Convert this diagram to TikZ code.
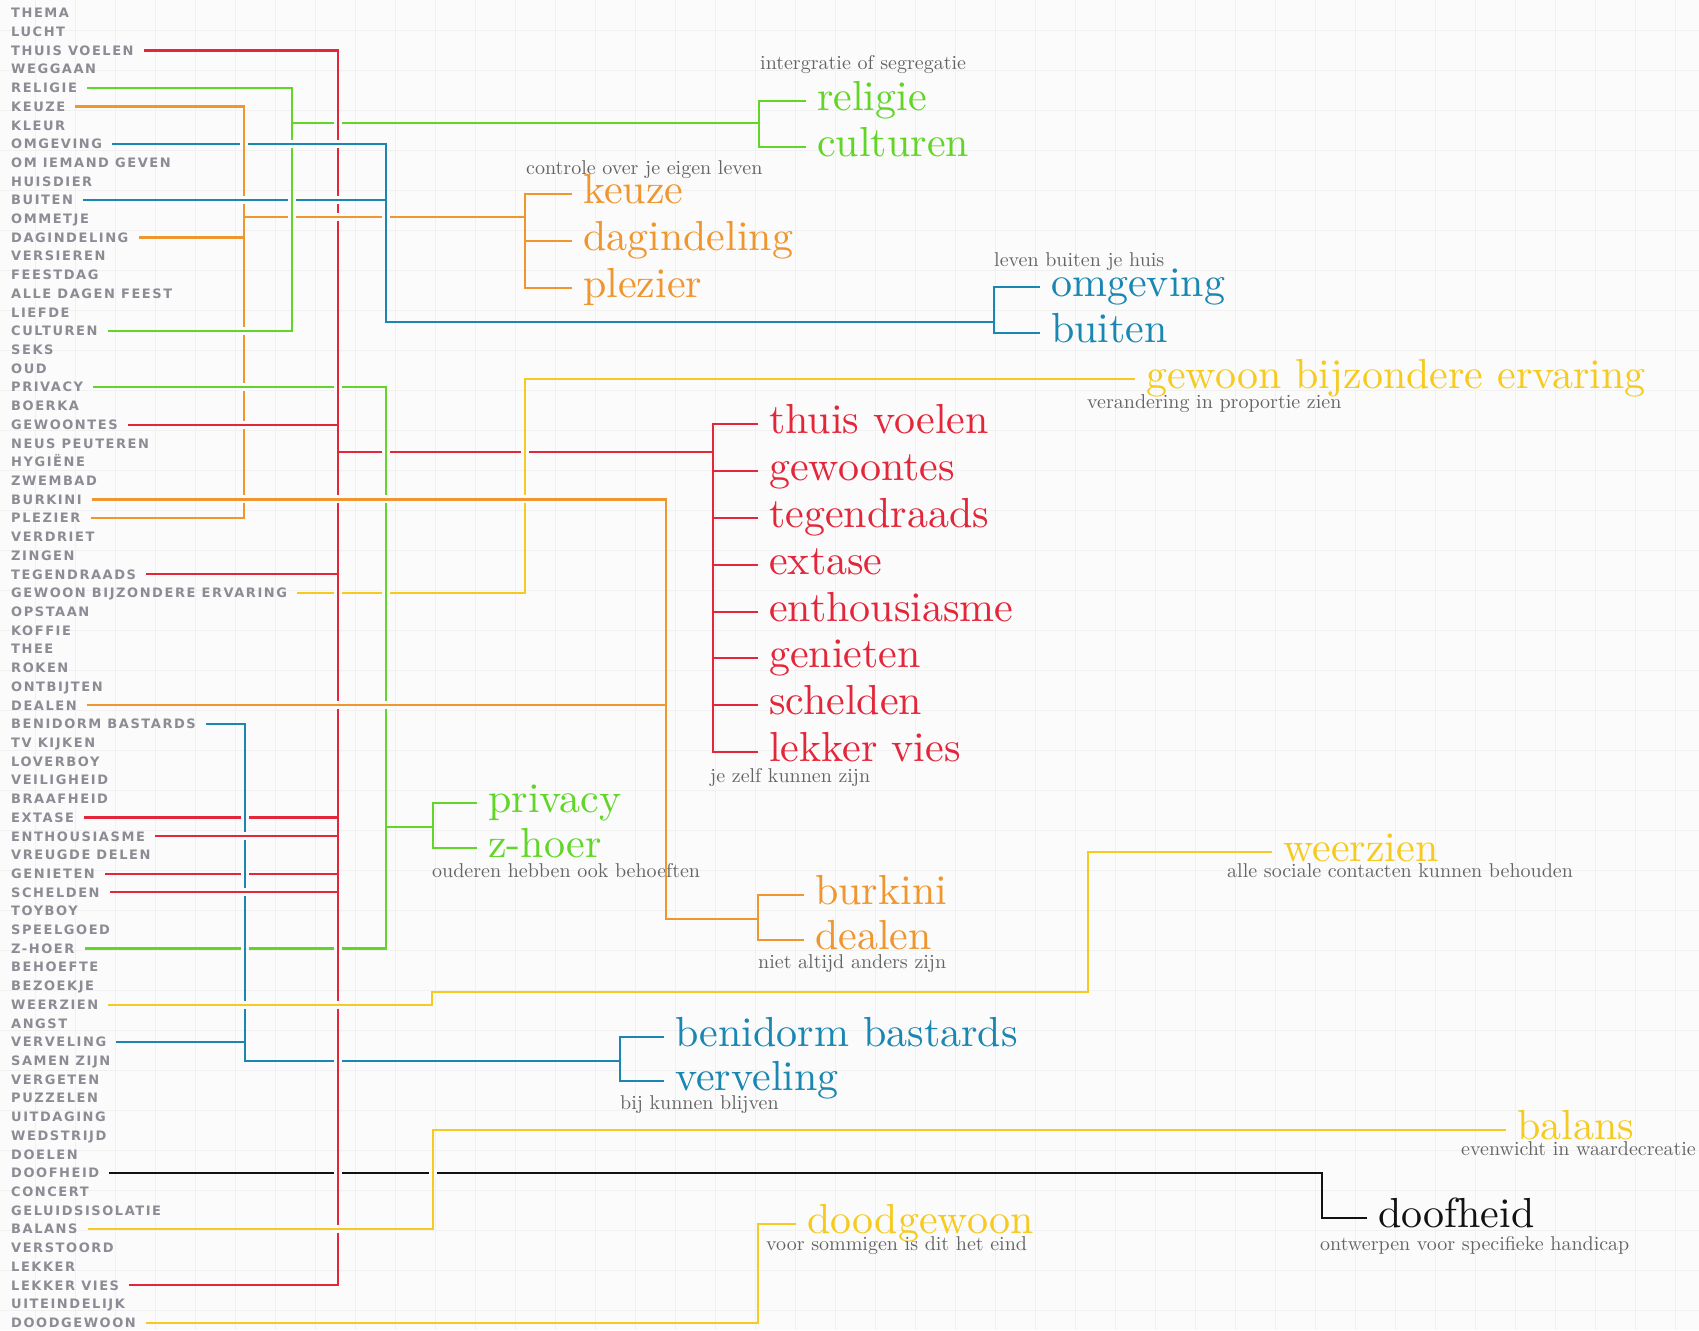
\documentclass[tikz,border=0pt]{standalone}
\usepackage{fontspec}
\newfontfamily\listfont[LetterSpace=12]{DejaVu Sans}
\newfontfamily\bigfont[Extension=.otf]{lmroman10-regular}
\definecolor{cred}{RGB}{228,38,58}
\definecolor{cgrn}{RGB}{98,214,40}
\definecolor{corg}{RGB}{240,150,46}
\definecolor{cblu}{RGB}{26,134,178}
\definecolor{cyel}{RGB}{246,202,30}
\definecolor{cblk}{RGB}{18,18,18}
\definecolor{lstgray}{RGB}{140,140,148}
\definecolor{anngray}{RGB}{100,100,100}
\definecolor{bgc}{RGB}{251,251,251}
\definecolor{gridc}{RGB}{241,241,241}
\newcommand\xv[3]{\fill[bgc] (#1-4,#2-5) rectangle (#1+4,#2+5); \draw[ln,#3] (#1,#2-5.5) -- (#1,#2+5.5);}
\newcommand\xh[3]{\fill[bgc] (#1-5,#2-4) rectangle (#1+5,#2+4); \draw[ln,#3] (#1-5.5,#2) -- (#1+5.5,#2);}
\begin{document}
\begin{tikzpicture}[x=1pt,y=-1pt,
  ln/.style={line width=2.2pt},
  lst/.style={anchor=west,inner sep=0pt,text height=9.5pt,text depth=0pt,text=lstgray,font=\listfont\bfseries\fontsize{13}{13}\selectfont},
  lab/.style={anchor=west,inner sep=0pt,text height=19pt,text depth=0pt,font=\bigfont\fontsize{42}{42}\selectfont},
  ann/.style={anchor=west,inner sep=0pt,text height=9pt,text depth=0pt,text=anngray,font=\bigfont\fontsize{20}{20}\selectfont}]
\useasboundingbox (0,0) rectangle (1699,1330);
\fill[bgc] (0,0) rectangle (1699,1330);
\foreach \gx in {35,75,...,1699} \draw[gridc,line width=0.8pt] (\gx,0) -- (\gx,1330);
\foreach \gy in {30,70,...,1330} \draw[gridc,line width=0.8pt] (0,\gy) -- (1699,\gy);

% ---------- left list ----------
\foreach \t [count=\i] in {THEMA,LUCHT,THUIS VOELEN,WEGGAAN,RELIGIE,KEUZE,KLEUR,OMGEVING,OM IEMAND GEVEN,HUISDIER,BUITEN,OMMETJE,DAGINDELING,VERSIEREN,FEESTDAG,ALLE DAGEN FEEST,LIEFDE,CULTUREN,SEKS,OUD,PRIVACY,BOERKA,GEWOONTES,NEUS PEUTEREN,HYGIËNE,ZWEMBAD,BURKINI,PLEZIER,VERDRIET,ZINGEN,TEGENDRAADS,GEWOON BIJZONDERE ERVARING,OPSTAAN,KOFFIE,THEE,ROKEN,ONTBIJTEN,DEALEN,BENIDORM BASTARDS,TV KIJKEN,LOVERBOY,VEILIGHEID,BRAAFHEID,EXTASE,ENTHOUSIASME,VREUGDE DELEN,GENIETEN,SCHELDEN,TOYBOY,SPEELGOED,Z-HOER,BEHOEFTE,BEZOEKJE,WEERZIEN,ANGST,VERVELING,SAMEN ZIJN,VERGETEN,PUZZELEN,UITDAGING,WEDSTRIJD,DOELEN,DOOFHEID,CONCERT,GELUIDSISOLATIE,BALANS,VERSTOORD,LEKKER,LEKKER VIES,UITEINDELIJK,DOODGEWOON}
  \node[lst] (l\i) at (11,{13+18.71*(\i-1)}) {\t};

% ---------- labels ----------
\node[lab,text=cgrn] (gr1) at (817,101) {religie};
\node[lab,text=cgrn] (gr2) at (817,147) {culturen};
\node[ann] (a1) at (760,65) {intergratie of segregatie};

\node[lab,text=corg] (ok1) at (583,194) {keuze};
\node[lab,text=corg] (ok2) at (583,241) {dagindeling};
\node[lab,text=corg] (ok3) at (583,288) {plezier};
\node[ann] (a2) at (526,170) {controle over je eigen leven};

\node[lab,text=cblu] (bo1) at (1051,287) {omgeving};
\node[lab,text=cblu] (bo2) at (1051,333) {buiten};
\node[ann] (a3) at (994,262) {leven buiten je huis};

\node[lab,text=cyel] (gbe) at (1146,379) {gewoon bijzondere ervaring};
\node[ann] (a4) at (1087,404) {verandering in proportie zien};

\node[lab,text=cred] (r1) at (769,424) {thuis voelen};
\node[lab,text=cred] (r2) at (769,471) {gewoontes};
\node[lab,text=cred] (r3) at (769,518) {tegendraads};
\node[lab,text=cred] (r4) at (769,565) {extase};
\node[lab,text=cred] (r5) at (769,612) {enthousiasme};
\node[lab,text=cred] (r6) at (769,658) {genieten};
\node[lab,text=cred] (r7) at (769,705) {schelden};
\node[lab,text=cred] (r8) at (769,752) {lekker vies};
\node[ann] (a5) at (710,778) {je zelf kunnen zijn};

\node[lab,text=cgrn] (gp1) at (488,803) {privacy};
\node[lab,text=cgrn] (gp2) at (488,848) {z-hoer};
\node[ann] (a6) at (432,873) {ouderen hebben ook behoeften};

\node[lab,text=corg] (ob1) at (815,895) {burkini};
\node[lab,text=corg] (ob2) at (815,940) {dealen};
\node[ann] (a7) at (758,964) {niet altijd anders zijn};

\node[lab,text=cyel] (wz) at (1283,852) {weerzien};
\node[ann] (a8) at (1227,873) {alle sociale contacten kunnen behouden};

\node[lab,text=cblu] (bb1) at (675,1037) {benidorm bastards};
\node[lab,text=cblu] (bb2) at (675,1081) {verveling};
\node[ann] (a9) at (620,1105) {bij kunnen blijven};

\node[lab,text=cyel] (bal) at (1517,1130) {balans};
\node[ann] (a10) at (1461,1151) {evenwicht in waardecreatie};

\node[lab,text=cblk] (doof) at (1378,1218) {doofheid};
\node[ann] (a11) at (1320,1246) {ontwerpen voor specifieke handicap};

\node[lab,text=cyel] (dg) at (807,1224) {doodgewoon};
\node[ann] (a12) at (766,1246) {voor sommigen is dit het eind};

% ---------- coordinates ----------
\coordinate (rx) at (338,0);   \coordinate (rtr) at (338,452);  \coordinate (rbx) at (713,0);
\coordinate (g1x) at (292,0);  \coordinate (g1tr) at (292,123); \coordinate (g1bx) at (759,0);
\coordinate (o1x) at (244,0);  \coordinate (o1tr) at (244,217); \coordinate (o1bx) at (525,0);
\coordinate (b1x) at (386,0);  \coordinate (b1tr) at (386,322); \coordinate (b1bx) at (994,0);
\coordinate (g2x) at (386,0);  \coordinate (g2tr) at (386,827); \coordinate (g2bx) at (433,0);
\coordinate (o2x) at (666,0);  \coordinate (o2tr) at (666,919); \coordinate (o2bx) at (758,0);
\coordinate (b2x) at (245,0);  \coordinate (b2tr) at (245,1061);\coordinate (b2bx) at (620,0);
\coordinate (y1x) at (525,0);
\coordinate (w1x) at (432,0);  \coordinate (w1c) at (432,992);  \coordinate (w2x) at (1088,0);
\coordinate (y3x) at (433,0);
\coordinate (kx) at (1322,0);
\coordinate (y4x) at (758,0);

% ---------- connectors ----------
% yellow
\draw[ln,cyel] ([xshift=10pt]l32.east) -- (l32.east -| y1x) -- (gbe.west -| y1x) -- ([xshift=-11pt]gbe.west);
\draw[ln,cyel] ([xshift=10pt]l54.east) -- (l54.east -| w1x) -- (w1c) -- (w1c -| w2x) -- (wz.west -| w2x) -- ([xshift=-11pt]wz.west);
\draw[ln,cyel] ([xshift=10pt]l66.east) -- (l66.east -| y3x) -- (bal.west -| y3x) -- ([xshift=-11pt]bal.west);
\draw[ln,cyel] ([xshift=10pt]l71.east) -- (l71.east -| y4x) -- (dg.west -| y4x) -- ([xshift=-11pt]dg.west);
% black
\draw[ln,cblk] ([xshift=10pt]l63.east) -- (l63.east -| kx) -- (doof.west -| kx) -- ([xshift=-11pt]doof.west);
% blue benidorm
\draw[ln,cblu] ([xshift=10pt]l39.east) -- (l39.east -| b2x) -- (b2tr) -- (b2tr -| b2bx);
\draw[ln,cblu] ([xshift=10pt]l56.east) -- (l56.east -| b2x);
\draw[ln,cblu] ([xshift=-11pt]bb1.west) -- (bb1.west -| b2bx) -- (bb2.west -| b2bx) -- ([xshift=-11pt]bb2.west);
% orange burkini
\draw[ln,corg] ([xshift=10pt]l27.east) -- (l27.east -| o2x) -- (o2tr) -- (o2tr -| o2bx);
\draw[ln,corg] ([xshift=10pt]l38.east) -- (l38.east -| o2x);
\draw[ln,corg] ([xshift=-11pt]ob1.west) -- (ob1.west -| o2bx) -- (ob2.west -| o2bx) -- ([xshift=-11pt]ob2.west);
% green privacy
\draw[ln,cgrn] ([xshift=10pt]l21.east) -- (l21.east -| g2x) -- (l51.east -| g2x) -- ([xshift=10pt]l51.east);
\draw[ln,cgrn] (g2tr) -- (g2tr -| g2bx);
\draw[ln,cgrn] ([xshift=-11pt]gp1.west) -- (gp1.west -| g2bx) -- (gp2.west -| g2bx) -- ([xshift=-11pt]gp2.west);
% blue omgeving
\draw[ln,cblu] ([xshift=10pt]l8.east) -- (l8.east -| b1x) -- (b1tr) -- (b1tr -| b1bx);
\draw[ln,cblu] ([xshift=10pt]l11.east) -- (l11.east -| b1x);
\draw[ln,cblu] ([xshift=-11pt]bo1.west) -- (bo1.west -| b1bx) -- (bo2.west -| b1bx) -- ([xshift=-11pt]bo2.west);
% orange keuze
\draw[ln,corg] ([xshift=10pt]l6.east) -- (l6.east -| o1x) -- (l28.east -| o1x) -- ([xshift=10pt]l28.east);
\draw[ln,corg] ([xshift=10pt]l13.east) -- (l13.east -| o1x);
\draw[ln,corg] (o1tr) -- (o1tr -| o1bx);
\draw[ln,corg] ([xshift=-11pt]ok1.west) -- (ok1.west -| o1bx) -- (ok3.west -| o1bx) -- ([xshift=-11pt]ok3.west);
\draw[ln,corg] (ok2.west -| o1bx) -- ([xshift=-11pt]ok2.west);
% green religie
\draw[ln,cgrn] ([xshift=10pt]l5.east) -- (l5.east -| g1x) -- (l18.east -| g1x) -- ([xshift=10pt]l18.east);
\draw[ln,cgrn] (g1tr) -- (g1tr -| g1bx);
\draw[ln,cgrn] ([xshift=-11pt]gr1.west) -- (gr1.west -| g1bx) -- (gr2.west -| g1bx) -- ([xshift=-11pt]gr2.west);
% red
\draw[ln,cred] ([xshift=10pt]l3.east) -- (l3.east -| rx) -- (l69.east -| rx) -- ([xshift=10pt]l69.east);
\foreach \n in {23,31,44,45,47,48} \draw[ln,cred] ([xshift=10pt]l\n.east) -- (l\n.east -| rx);
\draw[ln,cred] (rtr) -- (rtr -| rbx);
\draw[ln,cred] ([xshift=-11pt]r1.west) -- (r1.west -| rbx) -- (r8.west -| rbx) -- ([xshift=-11pt]r8.west);
\foreach \n in {2,...,7} \draw[ln,cred] (r\n.west -| rbx) -- ([xshift=-11pt]r\n.west);

% ---------- crossings ----------
\xv{338}{123}{cred}
\xv{244}{143.97}{corg}
\xh{292}{143.97}{cblu}
\xh{338}{143.97}{cblu}
\xh{244}{200.1}{cblu}
\xv{292}{200.1}{cgrn}
\xh{338}{200.1}{cblu}
\xv{292}{217}{cgrn}
\xh{338}{217}{corg}
\xv{386}{217}{cblu}
\xh{244}{331.07}{cgrn}
\xh{244}{387.2}{cgrn}
\xv{338}{387.2}{cred}
\xh{244}{424.62}{cred}
\xv{386}{452}{cgrn}
\xv{525}{452}{cyel}
\xh{244}{499.46}{corg}
\xh{338}{499.46}{corg}
\xh{386}{499.46}{corg}
\xh{525}{499.46}{corg}
\xv{338}{593.01}{cred}
\xv{386}{593.01}{cgrn}
\xh{338}{705.27}{corg}
\xh{386}{705.27}{corg}
\xv{245}{817.53}{cblu}
\xh{245}{836.24}{cred}
\xv{245}{873.66}{cblu}
\xh{245}{892.37}{cred}
\xv{245}{948.5}{cblu}
\xv{338}{948.5}{cred}
\xh{245}{1004.63}{cyel}
\xh{338}{1004.63}{cyel}
\xv{338}{1060.76}{cred}
\xv{338}{1173.02}{cred}
\xv{433}{1173.02}{cyel}
\xh{338}{1229.15}{cyel}
\end{tikzpicture}
\end{document}
